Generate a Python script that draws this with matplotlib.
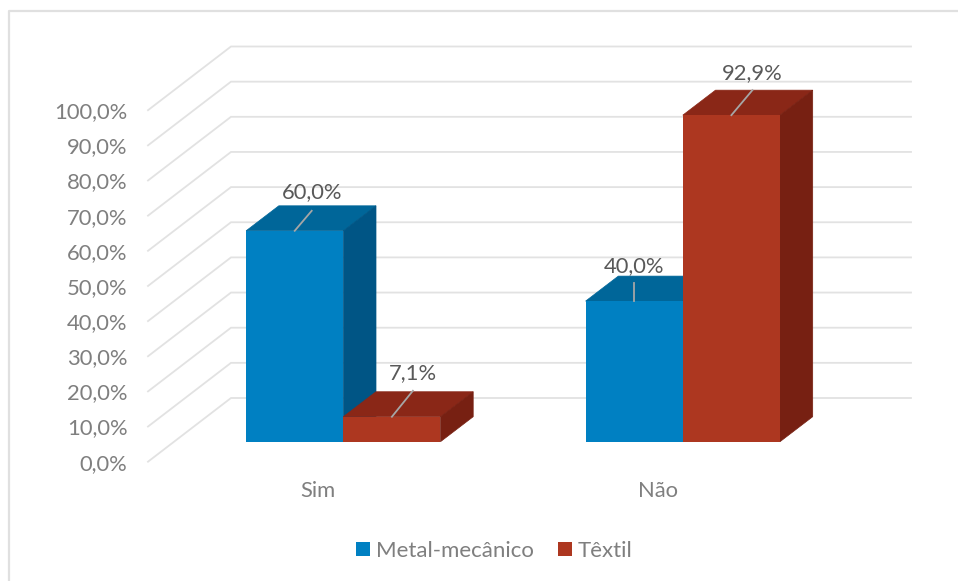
import matplotlib
matplotlib.use('Agg')
import matplotlib.pyplot as plt
from matplotlib.patches import Patch, Polygon

plt.rcParams['font.family'] = ['Lato', 'DejaVu Sans']

categorias = ['Sim', 'Não']
series = ['Metal-mecânico', 'Têxtil']
metal = [60.0, 40.0]
textil = [7.1, 92.9]
ticks = [0, 10, 20, 30, 40, 50, 60, 70, 80, 90, 100]

COR_FRENTE = ['#0080C2', '#AD3720']
COR_TOPO = ['#006699', '#8A2717']
COR_LADO = ['#005585', '#772012']
COR_GRADE = '#E2E2E2'
COR_EIXO = '#7F7F7F'
COR_ROTULO = '#595959'
FONTE = 15.8

# escalas: 1 categoria = 339.5 px, 1% = 3.515 px, zero das barras em y=441.7 px
PX_X = 339.5
PX_Y = 3.515
X0 = 343.3
Y0 = 441.7
L = 958
A = 581

largura = 97.2 / PX_X
prof_x = 32.7 / PX_X
prof_y = 25 / PX_Y
# parede do fundo em relação às barras
chao_frente = 20 / -PX_Y
chao_fundo = 43.7 / PX_Y
esq_frente = (148 - X0) / PX_X
esq_fundo = (231 - X0) / PX_X
dir_fundo = (911 - X0) / PX_X

fig = plt.figure(figsize=(L / 100, A / 100), dpi=100)
ax = fig.add_axes([0, 0, 1, 1])
ax.set_xlim(-X0 / PX_X, (L - X0) / PX_X)
ax.set_ylim(-(A - Y0) / PX_Y, Y0 / PX_Y)
ax.axis('off')

# moldura do gráfico
moldura_x = -(X0 - 9.5) / PX_X
moldura_y = (Y0 - 11) / PX_Y
ax.plot([moldura_x, moldura_x, ax.get_xlim()[1]], [ax.get_ylim()[0], moldura_y, moldura_y],
        color='#E0E0E0', lw=1.6, solid_capstyle='butt', zorder=0)

# linhas de grade e rótulos do eixo
for v in ticks:
    ax.plot([esq_frente, esq_fundo, dir_fundo],
            [v + chao_frente, v + chao_fundo, v + chao_fundo],
            color=COR_GRADE, lw=1.3, solid_joinstyle='miter', zorder=0)
    ax.text((127.5 - X0) / PX_X, v + chao_frente - 2 / PX_Y, f'{v},0%', ha='right', va='center',
            fontsize=FONTE, color=COR_EIXO)


def barra(x, valor, i):
    topo = [(x, valor), (x + largura, valor),
            (x + largura + prof_x, valor + prof_y), (x + prof_x, valor + prof_y)]
    lado = [(x + largura, 0), (x + largura + prof_x, prof_y),
            (x + largura + prof_x, valor + prof_y), (x + largura, valor)]
    ax.add_patch(Polygon(topo, closed=True, facecolor=COR_TOPO[i], edgecolor=COR_TOPO[i], lw=0.5, zorder=1))
    ax.add_patch(Polygon(lado, closed=True, facecolor=COR_LADO[i], edgecolor=COR_LADO[i], lw=0.5, zorder=1))
    ax.bar(x, valor, width=largura, align='edge', color=COR_FRENTE[i], lw=0, zorder=1)


def rotulo(x, valor, dx, dy, alt):
    # linha de chamada e texto do valor
    cx = x + largura / 2
    ax.plot([cx, cx + dx / PX_X], [valor, valor + dy / PX_Y], color='#A6A6A6', lw=1.3, zorder=2)
    ax.text(cx + dx / PX_X, valor + alt / PX_Y, f'{valor:.1f}%'.replace('.', ','),
            ha='center', va='center', fontsize=FONTE, color=COR_ROTULO)


for c in range(len(categorias)):
    barra(c - largura, metal[c], 0)
    barra(c, textil[c], 1)
    ax.text(c - 25 / PX_X, -49.5 / PX_Y, categorias[c], ha='center', va='center',
            fontsize=FONTE, color=COR_EIXO)

rotulo(0 - largura, metal[0], 17, 20, 38.5)
rotulo(0, textil[0], 21, 26, 43.5)
rotulo(1 - largura, metal[1], 0, 18, 35.5)
rotulo(1, textil[1], 21, 25, 42.5)

handles = [Patch(facecolor=COR_FRENTE[0]), Patch(facecolor=COR_FRENTE[1])]
ax.legend(handles, series, ncol=2, loc='center', frameon=False,
          bbox_to_anchor=(494.5 / L, 1 - 551 / A), fontsize=16, labelcolor=COR_EIXO,
          handlelength=0.6, handleheight=0.6, handletextpad=0.28, columnspacing=1.1,
          borderpad=0, borderaxespad=0)

fig.savefig('out.png', dpi=100)
